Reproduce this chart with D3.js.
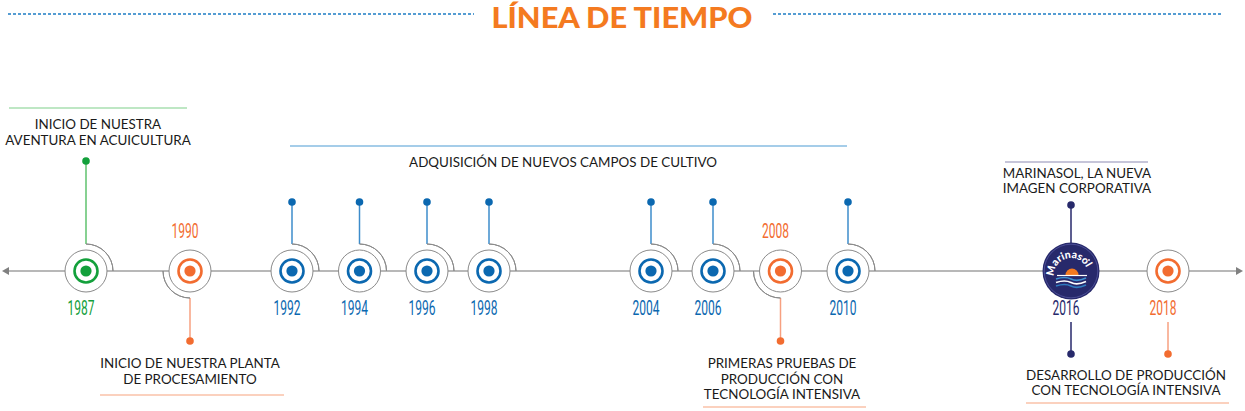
<!DOCTYPE html>
<html>
<head>
<meta charset="utf-8">
<script src="https://cdn.jsdelivr.net/npm/d3@7"></script>
<style>
  body { margin: 0; background: #fff; }
  svg { display: block; }
  .cap { font-family: Lato, "Open Sans", sans-serif; font-size: 13.4px; fill: #1a1a1a; }
  .yr { font-family: Roboto, sans-serif; font-weight: 400; font-size: 21px; }
</style>
</head>
<body>
<svg></svg>
<script>
// timeline data
const years = [1987, 1990, 1992, 1994, 1996, 1998, 2004, 2006, 2008, 2010, 2016, 2018];
const kinds = ['green', 'orange', 'blue', 'blue', 'blue', 'blue', 'blue', 'blue', 'orange', 'blue', 'logo', 'orange'];
// where the stem goes: up / down / both
const stems = ['up', 'down', 'up', 'up', 'up', 'up', 'up', 'up', 'down', 'up', 'both', 'down'];
// year label above or below the node
const labelPos = ['below', 'above', 'below', 'below', 'below', 'below', 'below', 'below', 'above', 'below', 'below', 'below'];

const title = 'LÍNEA DE TIEMPO';
const brand = 'Marinasol';

// captions (lines of text) and the years they hang from
const captions = [
  { years: [1987], side: 'up', color: 'green', lines: ['INICIO DE NUESTRA', 'AVENTURA EN ACUICULTURA'] },
  { years: [1992, 2010], side: 'up', color: 'blue', lines: ['ADQUISICIÓN DE NUEVOS CAMPOS DE CULTIVO'] },
  { years: [1990], side: 'down', color: 'orange', lines: ['INICIO DE NUESTRA PLANTA', 'DE PROCESAMIENTO'] },
  { years: [2008], side: 'down', color: 'orange', lines: ['PRIMERAS PRUEBAS DE', 'PRODUCCIÓN CON', 'TECNOLOGÍA INTENSIVA'] },
  { years: [2016], side: 'up', color: 'logo', lines: ['MARINASOL, LA NUEVA', 'IMAGEN CORPORATIVA'] },
  { years: [2016, 2018], side: 'down', color: 'orange', lines: ['DESARROLLO DE PRODUCCIÓN', 'CON TECNOLOGÍA INTENSIVA'] }
];

const W = 1245, H = 411;
const axisY = 271;

const colors = {
  green:  { main: '#13a03b', stem: '#5fc26e', rule: '#7fd08a' },
  orange: { main: '#f26c30', stem: '#f7a080', rule: '#f7a47f' },
  blue:   { main: '#0b68b0', stem: '#3d8ccb', rule: '#4d9bd3' },
  logo:   { main: '#27296b', stem: '#27296b', rule: '#8d8bb3' }
};

// timeline is not proportional to time, so a piecewise scale
const x = d3.scaleLinear()
  .domain([1987, 1990, 1992, 1996, 1998, 2004, 2006, 2010, 2016, 2018])
  .range([86, 190, 292, 427, 489, 651, 713, 848, 1071, 1168]);

const svg = d3.select('svg')
  .attr('width', W)
  .attr('height', H);

// title with dashed rules
svg.append('text')
  .attr('x', 622).attr('y', 27.5)
  .attr('text-anchor', 'middle')
  .attr('font-family', 'Lato, sans-serif')
  .attr('font-weight', 900)
  .attr('font-size', 28)
  .attr('fill', '#f47a20')
  .attr('textLength', 261)
  .attr('lengthAdjust', 'spacingAndGlyphs')
  .text(title);

[[8, 474], [773, 1221]].forEach(d => {
  svg.append('line')
    .attr('x1', d[0]).attr('x2', d[1])
    .attr('y1', 14).attr('y2', 14)
    .attr('stroke', '#1e7cc4')
    .attr('stroke-width', 1.3)
    .attr('stroke-dasharray', '3,2');
});

// axis line with arrows
svg.append('line')
  .attr('x1', 6).attr('x2', 1239)
  .attr('y1', axisY).attr('y2', axisY)
  .attr('stroke', '#a0a0a0')
  .attr('stroke-width', 1.3);

svg.append('path')
  .attr('d', `M2,${axisY} L9,${axisY - 4} L9,${axisY + 4} Z`)
  .attr('fill', '#808080');
svg.append('path')
  .attr('d', `M1243,${axisY} L1236,${axisY - 4} L1236,${axisY + 4} Z`)
  .attr('fill', '#808080');

const events = years.map((y, i) => ({ year: y, kind: kinds[i], stem: stems[i], label: labelPos[i] }));

// stems
const arcR = 27;
events.forEach(d => {
  const cx = x(d.year);
  const c = colors[d.kind];
  if (d.stem === 'up' || d.stem === 'both') {
    const y1 = d.kind === 'logo' ? axisY - 28 : axisY - arcR;
    const yTop = d.kind === 'logo' ? 205 : (d.kind === 'green' ? 161 : 202);
    svg.append('line')
      .attr('x1', cx).attr('x2', cx)
      .attr('y1', yTop).attr('y2', y1)
      .attr('stroke', c.stem).attr('stroke-width', 1.5);
    svg.append('circle')
      .attr('cx', cx).attr('cy', yTop).attr('r', 3.8)
      .attr('fill', c.main);
  }
  if (d.stem === 'down' || d.stem === 'both') {
    const simple = d.kind === 'logo' || d.year === 2018;
    const y1 = simple ? 322 : axisY + arcR;
    const yBot = simple ? 354 : 341;
    const col = d.kind === 'logo' ? colors.logo : colors.orange;
    svg.append('line')
      .attr('x1', cx).attr('x2', cx)
      .attr('y1', y1).attr('y2', yBot)
      .attr('stroke', col.stem).attr('stroke-width', 1.5);
    svg.append('circle')
      .attr('cx', cx).attr('cy', yBot).attr('r', 3.8)
      .attr('fill', col.main);
  }
});

// quarter arcs around nodes
const quarter = d3.arc().innerRadius(arcR).outerRadius(arcR);
events.filter(d => d.kind !== 'logo' && d.year !== 2018).forEach(d => {
  const up = d.stem === 'up';
  svg.append('path')
    .attr('transform', `translate(${x(d.year)},${axisY})`)
    .attr('d', quarter({ startAngle: up ? 0 : Math.PI, endAngle: up ? Math.PI / 2 : Math.PI * 1.5 }))
    .attr('fill', 'none')
    .attr('stroke', '#8a8a8a')
    .attr('stroke-width', 1);
});

// node circles
const nodes = svg.selectAll('g.node')
  .data(events.filter(d => d.kind !== 'logo'))
  .enter()
  .append('g')
  .attr('class', 'node')
  .attr('transform', d => `translate(${x(d.year)},${axisY})`);

nodes.append('circle').attr('r', 21)
  .attr('fill', '#fff').attr('stroke', '#8a8a8a').attr('stroke-width', 1);
nodes.append('circle').attr('r', 11.5)
  .attr('fill', '#fff').attr('stroke', d => colors[d.kind].main).attr('stroke-width', 2.6);
nodes.append('circle').attr('r', 5.6)
  .attr('fill', d => colors[d.kind].main);

// logo node
const logoEv = events.find(d => d.kind === 'logo');
const lg = svg.append('g')
  .attr('transform', `translate(${x(logoEv.year)},${axisY})`);
lg.append('circle').attr('r', 28.5).attr('fill', '#27296b');
lg.append('circle').attr('r', 26.8).attr('fill', 'none').attr('stroke', '#5457a0').attr('stroke-width', 0.8);

// text arc: centre (0,4), radius 17, from -105deg to 75deg clockwise
const tr = 17, tcy = 4;
const a0 = -105 * Math.PI / 180, a1 = 75 * Math.PI / 180;
lg.append('path').attr('id', 'logoArc')
  .attr('d', `M${tr * Math.sin(a0)},${tcy - tr * Math.cos(a0)} A${tr},${tr} 0 0 1 ${tr * Math.sin(a1)},${tcy - tr * Math.cos(a1)}`)
  .attr('fill', 'none');
lg.append('text')
  .attr('font-family', 'Lato, sans-serif')
  .attr('font-weight', 900)
  .attr('font-size', 10.5)
  .attr('fill', '#fff')
  .attr('text-anchor', 'middle')
  .append('textPath')
  .attr('href', '#logoArc')
  .attr('startOffset', '50%')
  .text(brand);
lg.append('circle').attr('cx', 18).attr('cy', -11).attr('r', 0.9).attr('fill', '#fff');

lg.append('path')
  .attr('d', d3.arc().innerRadius(0).outerRadius(6.5)({ startAngle: -Math.PI / 2, endAngle: Math.PI / 2 }))
  .attr('transform', 'translate(1,4)')
  .attr('fill', '#f47a20');
lg.append('line').attr('x1', -14).attr('x2', 16).attr('y1', 4.5).attr('y2', 4.5)
  .attr('stroke', '#fff').attr('stroke-width', 1.2);
[8, 11.5, 15].forEach((dy, i) => {
  lg.append('path')
    .attr('d', `M-15,${dy} Q-6,${dy - 3} 0,${dy} T15,${dy - 1}`)
    .attr('fill', 'none')
    .attr('stroke', i === 0 ? '#3f92d2' : (i === 1 ? '#fff' : '#2f7cc0'))
    .attr('stroke-width', 1.7);
});

// year labels
svg.selectAll('text.yr')
  .data(events)
  .enter()
  .append('text')
  .attr('class', 'yr')
  .attr('x', d => x(d.year) - 5)
  .attr('y', d => d.label === 'above' ? 238 : 315)
  .attr('text-anchor', 'middle')
  .attr('fill', d => colors[d.kind].main)
  .attr('textLength', 27)
  .attr('lengthAdjust', 'spacingAndGlyphs')
  .text(d => d.year);

// captions with their rule lines
const capLayout = {
  1987: { cx: 98, base: [129, 145], rule: [9, 187, 108], size: 13.4 },
  1992: { cx: 563, base: [167], rule: [290, 847, 146], size: 13.3 },
  1990: { cx: 190, base: [368, 384], rule: [100, 284, 395], size: 13.5 },
  2008: { cx: 782, base: [368, 384, 399], rule: [703, 866, 407], size: 13 },
  2016: { cx: 1077, base: [178, 193], rule: [1005, 1148, 162], size: 11.4 },
  '2016-2018': { cx: 1126, base: [380, 395], rule: [1026, 1229, 403], size: 14.4 }
};

captions.forEach(c => {
  const key = c.years.length === 2 && c.years[0] === 2016 ? '2016-2018' : c.years[0];
  const L = capLayout[key];
  const col = colors[c.color];
  svg.append('line')
    .attr('x1', L.rule[0]).attr('x2', L.rule[1])
    .attr('y1', L.rule[2]).attr('y2', L.rule[2])
    .attr('stroke', col.rule)
    .attr('stroke-width', 1.2);
  c.lines.forEach((t, j) => {
    svg.append('text')
      .attr('class', 'cap')
      .attr('x', L.cx)
      .attr('y', L.base[j])
      .attr('text-anchor', 'middle')
      .attr('font-size', L.size)
      .text(t);
  });
});
</script>
</body>
</html>
